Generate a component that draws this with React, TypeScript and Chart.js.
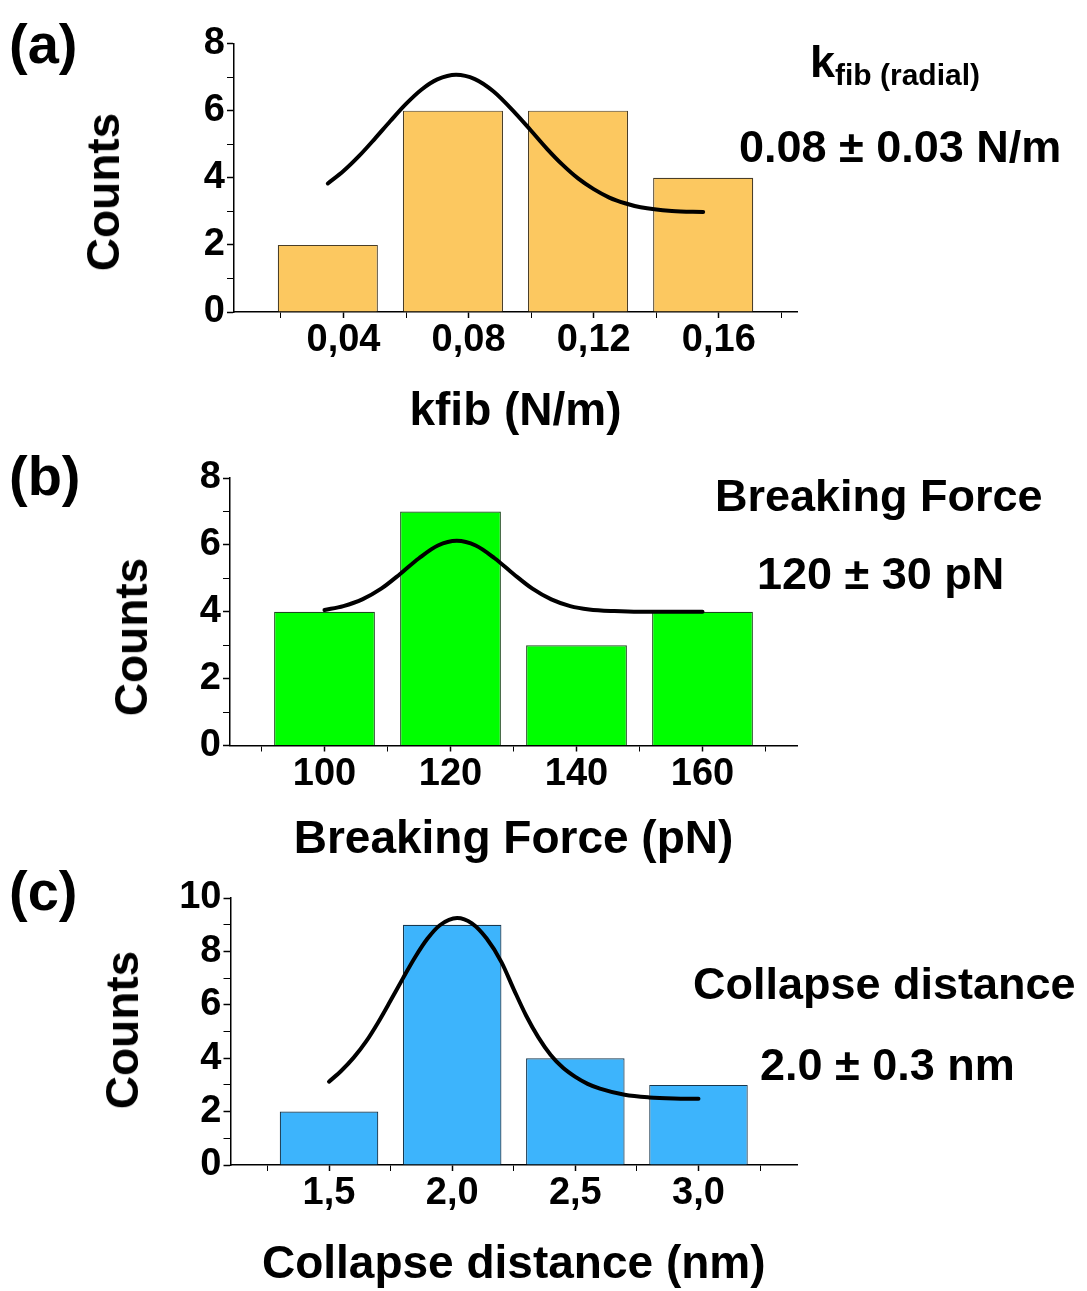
import React, { useEffect, useRef } from 'react';
import { Chart, registerables } from 'chart.js';

Chart.register(...registerables);

const FONT = "'Liberation Sans', Arial, Helvetica, sans-serif";

// ---------- Panel (a): kfib ----------
const kfibBinCenters = [0.035, 0.075, 0.115, 0.155];
const kfibCounts = [2, 6, 6, 4];
const kfibFitX = [0.035, 0.04, 0.045, 0.05, 0.055, 0.06, 0.065, 0.07, 0.076, 0.082, 0.088, 0.095, 0.1, 0.105, 0.11, 0.115, 0.12, 0.125, 0.13, 0.135, 0.145, 0.155];
const kfibFitY = [3.83, 4.2, 4.65, 5.16, 5.69, 6.2, 6.63, 6.93, 7.07, 6.94, 6.57, 5.92, 5.4, 4.87, 4.39, 3.98, 3.66, 3.41, 3.24, 3.12, 3.01, 2.98];
const kfibXTickValues = [0.02, 0.04, 0.06, 0.08, 0.1, 0.12, 0.14, 0.16, 0.18];
const kfibXTickLabels = ['', '0,04', '', '0,08', '', '0,12', '', '0,16', ''];
const kfibYTickValues = [0, 1, 2, 3, 4, 5, 6, 7, 8];
const kfibYTickLabels = ['0', '', '2', '', '4', '', '6', '', '8'];

// ---------- Panel (b): Breaking force ----------
const bfBinCenters = [100, 120, 140, 160];
const bfCounts = [4, 7, 3, 4];
const bfFitX = [100, 103, 106, 109, 112, 115, 118, 121, 124, 127, 130, 133, 136, 139, 142, 146, 150, 155, 160];
const bfFitY = [4.05, 4.17, 4.37, 4.69, 5.13, 5.6, 5.98, 6.12, 5.98, 5.6, 5.13, 4.69, 4.37, 4.17, 4.07, 4.02, 4.0, 4.0, 4.0];
const bfXTickValues = [90, 100, 110, 120, 130, 140, 150, 160, 170];
const bfXTickLabels = ['', '100', '', '120', '', '140', '', '160', ''];
const bfYTickValues = [0, 1, 2, 3, 4, 5, 6, 7, 8];
const bfYTickLabels = ['0', '', '2', '', '4', '', '6', '', '8'];

// ---------- Panel (c): Collapse distance ----------
const cdBinCenters = [1.5, 2.0, 2.5, 3.0];
const cdCounts = [2, 9, 4, 3];
const cdFitX = [1.5, 1.55, 1.6, 1.65, 1.7, 1.75, 1.8, 1.85, 1.9, 1.95, 2.02, 2.08, 2.14, 2.2, 2.25, 2.3, 2.35, 2.4, 2.45, 2.5, 2.55, 2.6, 2.7, 2.8, 2.9, 3.0];
const cdFitY = [3.12, 3.53, 4.02, 4.62, 5.35, 6.16, 6.99, 7.79, 8.48, 8.98, 9.25, 9.05, 8.48, 7.6, 6.58, 5.6, 4.78, 4.12, 3.64, 3.3, 3.04, 2.86, 2.63, 2.53, 2.49, 2.48];
const cdXTickValues = [1.25, 1.5, 1.75, 2.0, 2.25, 2.5, 2.75, 3.0, 3.25];
const cdXTickLabels = ['', '1,5', '', '2,0', '', '2,5', '', '3,0', ''];
const cdYTickValues = [0, 1, 2, 3, 4, 5, 6, 7, 8, 9, 10];
const cdYTickLabels = ['0', '', '2', '', '4', '', '6', '', '8', '', '10'];

type PanelProps = {
  binCenters: number[];
  counts: number[];
  fitX: number[];
  fitY: number[];
  xTickValues: number[];
  xTickLabels: string[];
  yTickValues: number[];
  yTickLabels: string[];
  xMin: number;
  xMax: number;
  yMax: number;
  xTitle: string;
  fill: string;
  stroke: string;
  top: number;
  canvasWidth: number;
  canvasHeight: number;
  chartLeft: number;
  chartRight: number;
  chartTop: number;
  chartBottom: number;
  xTitlePadBottom: number;
};

function HistogramPanel(p: PanelProps) {
  const ref = useRef<HTMLCanvasElement | null>(null);
  useEffect(() => {
    const canvas = ref.current;
    if (!canvas) return;
    const xTicks = p.xTickValues.map((v, i) => ({ value: v, label: p.xTickLabels[i] }));
    const yTicks = p.yTickValues.map((v, i) => ({ value: v, label: p.yTickLabels[i] }));
    const tickFont = { family: FONT, size: 38, weight: 'bold' as const, lineHeight: 1.2 };
    const chart = new Chart(canvas, {
      type: 'bar',
      data: {
        datasets: [
          {
            type: 'line' as const,
            data: p.fitX.map((x, i) => ({ x, y: p.fitY[i] })),
            borderColor: '#000000',
            borderWidth: 4,
            pointRadius: 0,
            fill: false,
            cubicInterpolationMode: 'monotone' as const,
            borderCapStyle: 'round' as const,
            borderJoinStyle: 'round' as const,
            order: 0,
          },
          {
            type: 'bar' as const,
            data: p.binCenters.map((x, i) => ({ x, y: p.counts[i] })),
            backgroundColor: p.fill,
            borderColor: p.stroke,
            borderWidth: 1.2,
            borderSkipped: 'start' as const,
            barPercentage: 1.6,
            categoryPercentage: 1,
            order: 1,
          },
        ] as any,
      },
      options: {
        responsive: false,
        maintainAspectRatio: false,
        animation: false,
        devicePixelRatio: 1,
        layout: {
          padding: {
            left: 0,
            top: p.chartTop,
            right: p.canvasWidth - p.chartRight,
            bottom: 0,
          },
        },
        plugins: {
          legend: { display: false },
          tooltip: { enabled: false },
        },
        scales: {
          x: {
            type: 'linear',
            min: p.xMin,
            max: p.xMax,
            offset: false,
            afterBuildTicks: (s: any) => {
              s.ticks = xTicks.map((t) => ({ value: t.value }));
            },
            afterFit: (s: any) => {
              s.height = p.canvasHeight - p.chartBottom;
            },
            ticks: {
              autoSkip: false,
              maxRotation: 0,
              minRotation: 0,
              padding: 0,
              color: '#000000',
              font: tickFont,
              callback: (_v: any, i: number) => (xTicks[i] ? xTicks[i].label : ''),
            },
            grid: {
              display: true,
              drawOnChartArea: false,
              drawTicks: true,
              tickLength: 6,
              offset: false,
              color: '#000000',
              tickColor: '#000000',
              tickWidth: (c: any) => (c.tick && c.tick.label === '' ? 1 : 1.5),
            },
            border: { display: true, color: '#000000', width: 1.5 },
            title: {
              display: true,
              text: p.xTitle,
              color: '#000000',
              font: { family: FONT, size: 46, weight: 'bold' },
              padding: { top: 0, bottom: p.xTitlePadBottom },
            },
          },
          y: {
            type: 'linear',
            min: 0,
            max: p.yMax,
            afterBuildTicks: (s: any) => {
              s.ticks = yTicks.map((t) => ({ value: t.value }));
            },
            afterFit: (s: any) => {
              s.width = p.chartLeft;
            },
            ticks: {
              autoSkip: false,
              padding: 2,
              color: '#000000',
              font: tickFont,
              callback: (_v: any, i: number) => (yTicks[i] ? yTicks[i].label : ''),
            },
            grid: {
              display: true,
              drawOnChartArea: false,
              drawTicks: true,
              tickLength: 7,
              color: '#000000',
              tickColor: '#000000',
              tickWidth: (c: any) => (c.tick && c.tick.label === '' ? 1 : 1.5),
            },
            border: { display: true, color: '#000000', width: 1.5 },
            title: { display: false },
          },
        },
      } as any,
    });
    return () => chart.destroy();
  }, []);
  return (
    <canvas
      ref={ref}
      width={p.canvasWidth}
      height={p.canvasHeight}
      style={{
        position: 'absolute',
        left: 0,
        top: p.top,
        width: p.canvasWidth,
        height: p.canvasHeight,
      }}
    />
  );
}

function Label(props: { x: number; baseline: number; size: number; children: React.ReactNode }) {
  const { x, baseline, size, children } = props;
  return (
    <div
      style={{
        position: 'absolute',
        left: x,
        top: baseline - 0.8465 * size,
        fontFamily: FONT,
        fontSize: size,
        fontWeight: 'bold',
        lineHeight: 1,
        whiteSpace: 'nowrap',
        color: '#000',
      }}
    >
      {children}
    </div>
  );
}

function VLabel(props: { cx: number; cy: number; size: number; text: string }) {
  const { cx, cy, size, text } = props;
  return (
    <div
      style={{
        position: 'absolute',
        left: cx,
        top: cy,
        transform: 'translate(-50%, -50%) rotate(-90deg)',
        fontFamily: FONT,
        fontSize: size,
        fontWeight: 'bold',
        lineHeight: 1,
        whiteSpace: 'nowrap',
        color: '#000',
      }}
    >
      {text}
    </div>
  );
}

export default function App() {
  return (
    <div
      style={{
        position: 'absolute',
        left: 0,
        top: 0,
        width: 1087,
        height: 1291,
        background: '#ffffff',
        overflow: 'hidden',
      }}
    >
      <HistogramPanel
        binCenters={kfibBinCenters}
        counts={kfibCounts}
        fitX={kfibFitX}
        fitY={kfibFitY}
        xTickValues={kfibXTickValues}
        xTickLabels={kfibXTickLabels}
        yTickValues={kfibYTickValues}
        yTickLabels={kfibYTickLabels}
        xMin={0.005}
        xMax={0.185}
        yMax={8}
        xTitle="kfib (N/m)"
        fill="#FCC860"
        stroke="#4A3E28"
        top={0}
        canvasWidth={830}
        canvasHeight={440}
        chartLeft={234}
        chartRight={797}
        chartTop={43.5}
        chartBottom={312}
        xTitlePadBottom={0}
      />
      <HistogramPanel
        binCenters={bfBinCenters}
        counts={bfCounts}
        fitX={bfFitX}
        fitY={bfFitY}
        xTickValues={bfXTickValues}
        xTickLabels={bfXTickLabels}
        yTickValues={bfYTickValues}
        yTickLabels={bfYTickLabels}
        xMin={85}
        xMax={175}
        yMax={8}
        xTitle="Breaking Force (pN)"
        fill="#00FF00"
        stroke="#1F4A1F"
        top={440}
        canvasWidth={830}
        canvasHeight={440}
        chartLeft={230}
        chartRight={797}
        chartTop={38}
        chartBottom={305.5}
        xTitlePadBottom={12}
      />
      <HistogramPanel
        binCenters={cdBinCenters}
        counts={cdCounts}
        fitX={cdFitX}
        fitY={cdFitY}
        xTickValues={cdXTickValues}
        xTickLabels={cdXTickLabels}
        yTickValues={cdYTickValues}
        yTickLabels={cdYTickLabels}
        xMin={1.1}
        xMax={3.4}
        yMax={10}
        xTitle="Collapse distance (nm)"
        fill="#3DB4FC"
        stroke="#17384F"
        top={868}
        canvasWidth={830}
        canvasHeight={433}
        chartLeft={230.5}
        chartRight={797}
        chartTop={30}
        chartBottom={297}
        xTitlePadBottom={8}
      />

      <VLabel cx={103} cy={191.5} size={46} text="Counts" />
      <VLabel cx={131} cy={636.5} size={46} text="Counts" />
      <VLabel cx={122} cy={1030} size={46} text="Counts" />

      <Label x={9} baseline={63} size={56}>(a)</Label>
      <Label x={9} baseline={495} size={56}>(b)</Label>
      <Label x={9} baseline={910} size={56}>(c)</Label>

      <Label x={810} baseline={77} size={45}>
        k
        <span style={{ fontSize: 30, lineHeight: 1, position: 'relative', top: 8 }}>fib (radial)</span>
      </Label>
      <Label x={739} baseline={162.5} size={45}>0.08 ± 0.03 N/m</Label>

      <Label x={715} baseline={511} size={45}>Breaking Force</Label>
      <Label x={757} baseline={589} size={45}>120 ± 30 pN</Label>

      <Label x={693} baseline={999} size={45}>Collapse distance</Label>
      <Label x={760} baseline={1080} size={45}>2.0 ± 0.3 nm</Label>
    </div>
  );
}
